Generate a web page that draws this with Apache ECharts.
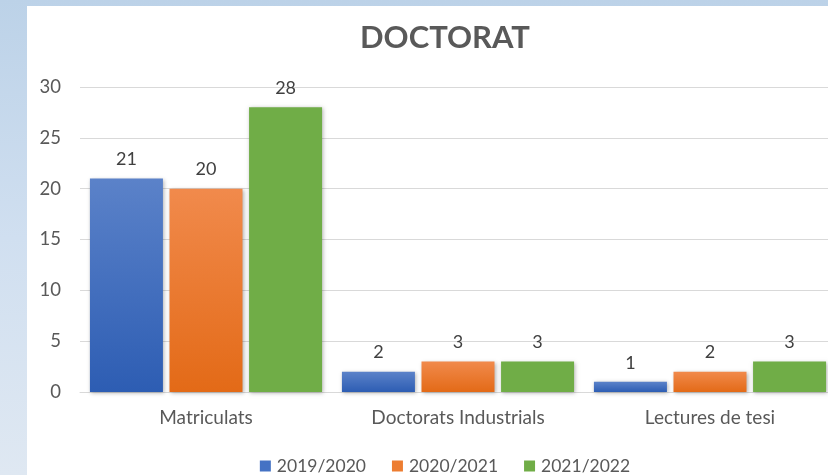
<!DOCTYPE html>
<html>
<head>
<meta charset="utf-8">
<script src="https://cdn.jsdelivr.net/npm/echarts@6/dist/echarts.min.js"></script>
<style>
html,body{margin:0;padding:0;width:828px;height:475px;overflow:hidden;}
body{background:linear-gradient(to bottom,#bcd2e8 0%,#d0dff0 50%,#dfe8f2 100%);position:relative;}
#chart{position:absolute;left:27px;top:6px;width:836px;height:469px;background:#ffffff;}
</style>
</head>
<body>
<div id="chart"></div>
<script>
const categories = ['Matriculats', 'Doctorats Industrials', 'Lectures de tesi'];
const seriesNames = ['2019/2020', '2020/2021', '2021/2022'];
const values2019 = [21, 2, 1];
const values2020 = [20, 3, 2];
const values2021 = [28, 3, 3];
const yTicks = [0, 5, 10, 15, 20, 25, 30];

const font = 'Lato, "Open Sans", sans-serif';
const textColor = '#595959';
const grad = (top, bottom) => new echarts.graphic.LinearGradient(0, 0, 0, 1, [
  {offset: 0, color: top}, {offset: 1, color: bottom}
]);
const fills = [grad('#5b82c9', '#2d5db3'), grad('#f18a4c', '#e36a17'), '#70ad47'];
const legendColors = ['#4472c4', '#ed7d31', '#70ad47'];
const dataSets = [values2019, values2020, values2021];

const chart = echarts.init(document.getElementById('chart'), null, {renderer: 'canvas'});
chart.setOption({
  animation: false,
  color: legendColors,
  title: {
    text: 'DOCTORAT', left: 'center', top: 11,
    textStyle: {fontFamily: font, fontSize: 31, fontWeight: 'bold', color: textColor}
  },
  legend: {
    data: seriesNames.map((n, i) => ({name: n, itemStyle: {color: legendColors[i]}})),
    left: 'center', top: 446, icon: 'rect', itemWidth: 11, itemHeight: 11, itemGap: 26,
    textStyle: {fontFamily: font, fontSize: 17.5, color: textColor, padding: [0, 0, 0, 1]}
  },
  grid: {left: 53, right: 27, top: 81, bottom: 83, containLabel: false},
  xAxis: {
    type: 'category', data: categories,
    axisLine: {lineStyle: {color: '#d9d9d9'}},
    axisTick: {show: false},
    axisLabel: {fontFamily: font, fontSize: 19, color: textColor, margin: 16}
  },
  yAxis: {
    type: 'value', min: yTicks[0], max: yTicks[yTicks.length - 1], interval: 5,
    axisLine: {show: false}, axisTick: {show: false},
    splitLine: {lineStyle: {color: '#d9d9d9'}},
    axisLabel: {fontFamily: font, fontSize: 18.5, color: textColor, margin: 19}
  },
  series: seriesNames.map((name, i) => ({
    name: name, type: 'bar', data: dataSets[i],
    barWidth: 73, barGap: '9%',
    itemStyle: {color: fills[i], shadowBlur: 4, shadowColor: 'rgba(0,0,0,0.3)', shadowOffsetX: 1, shadowOffsetY: 1},
    label: {show: true, position: 'top', distance: 10, fontFamily: font, fontSize: 18, color: '#404040'}
  }))
});
</script>
</body>
</html>
